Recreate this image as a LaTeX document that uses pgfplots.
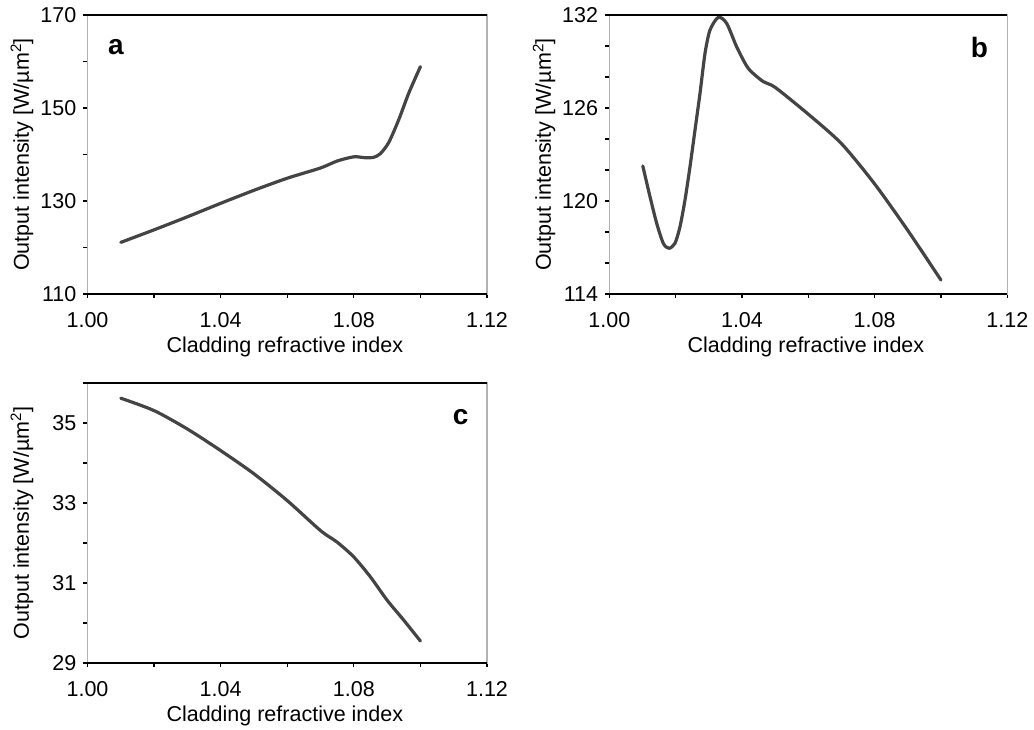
\documentclass[border=0pt]{standalone}
\usepackage{fontspec}
\setmainfont{Liberation Sans}
\usepackage{pgfplots}
\pgfplotsset{compat=1.18}

% intensity versus cladding index, three cases
\pgfplotstableread{
n      I
1.010  121.1
1.020  123.8
1.030  126.6
1.040  129.5
1.050  132.3
1.060  134.9
1.070  137.1
1.075  138.6
1.080  139.5
1.0835 139.3
1.086  139.4
1.088  140.2
1.0905 142.6
1.0935 147.5
1.0965 153.2
1.100  158.9
}\dataA

\pgfplotstableread{
n       I
1.0101  122.26
1.01227 120.28
1.01429 118.56
1.01628 117.27
1.0180  116.95
1.0198  117.27
1.02131 118.34
1.02282 120.06
1.02433 122.21
1.02584 124.58
1.02735 126.95
1.02886 129.53
1.03036 131.03
1.03287 131.85
1.03539 131.46
1.0384  129.95
1.0419  128.56
1.04643 127.70
1.04995 127.34
1.0600  125.6
1.0700  123.7
1.0800  121.1
1.0900  118.1
1.1000  114.9
}\dataB

\pgfplotstableread{
n      I
1.010  35.62
1.020  35.31
1.030  34.85
1.040  34.31
1.050  33.73
1.060  33.06
1.070  32.31
1.075  32.02
1.080  31.65
1.085  31.15
1.090  30.57
1.095  30.07
1.100  29.55
}\dataC

\newcommand\lblfont{\fontsize{21.5}{25}\selectfont}
\definecolor{curve}{HTML}{444444}

\pgfplotsset{
  panel/.style={
    scale only axis,
    width=399.5pt, height=279pt,
    xmin=1, xmax=1.12,
    xtick={1,1.04,1.08,1.12},
    minor xtick={1.02,1.06,1.10},
    tick pos=left, tick align=outside,
    major tick length=4pt, minor tick length=4pt,
    every tick/.style={black, line width=1.2pt},
    axis line style={draw=gray!60, line width=1.5pt},
    /pgf/number format/assume math mode=true,
    ticklabel style={font=\lblfont, inner sep=0pt},
    xticklabel style={anchor=north, yshift=-14pt,
      /pgf/number format/.cd, fixed, fixed zerofill, precision=2},
    yticklabel style={anchor=east, xshift=-7pt},
    xlabel={Cladding refractive index},
    ylabel={Output intensity [W/\textmu m\textsuperscript{2}]},
    label style={font=\lblfont},
    xlabel style={at={(axis description cs:0.494,-0.189)}, anchor=center},
    ylabel style={at={(axis description cs:-0.164,0.5)}, anchor=center},
    clip=false,
  },
  curve/.style={draw=curve, line width=3.2pt, smooth, tension=0.45, line cap=round},
}

\newcommand\frameline{%
  \draw[black, line width=2pt] (rel axis cs:0,0) -- (rel axis cs:1,0);
  \draw[black, line width=2pt] (rel axis cs:0,1) -- (rel axis cs:1,1);}

\begin{document}
\begin{tikzpicture}
\path (0,0) rectangle (1034pt,728pt);

\begin{axis}[panel, at={(87.5pt,434pt)}, anchor=south west,
  ymin=110, ymax=170, ytick={110,130,150,170}, minor ytick={120,140,160}]
  \addplot[curve] table[x=n, y=I] {\dataA};
  \frameline
  \node[font=\fontsize{28}{30}\selectfont\bfseries] at (rel axis cs:0.0713,0.885) {a};
\end{axis}

\begin{axis}[panel, width=398pt, at={(609.3pt,434pt)}, anchor=south west,
  ymin=114, ymax=132, ytick={114,120,126,132},
  minor ytick={116,118,122,124,128,130}]
  \addplot[curve] table[x=n, y=I] {\dataB};
  \frameline
  \node[font=\fontsize{28}{30}\selectfont\bfseries] at (rel axis cs:0.930,0.885) {b};
\end{axis}

\begin{axis}[panel, height=280pt, at={(87.5pt,65pt)}, anchor=south west,
  ymin=29, ymax=36, ytick={29,31,33,35}, minor ytick={30,32,34,36}]
  \addplot[curve] table[x=n, y=I] {\dataC};
  \frameline
  \node[font=\fontsize{28}{30}\selectfont\bfseries] at (rel axis cs:0.934,0.8775) {c};
\end{axis}
\end{tikzpicture}
\end{document}
